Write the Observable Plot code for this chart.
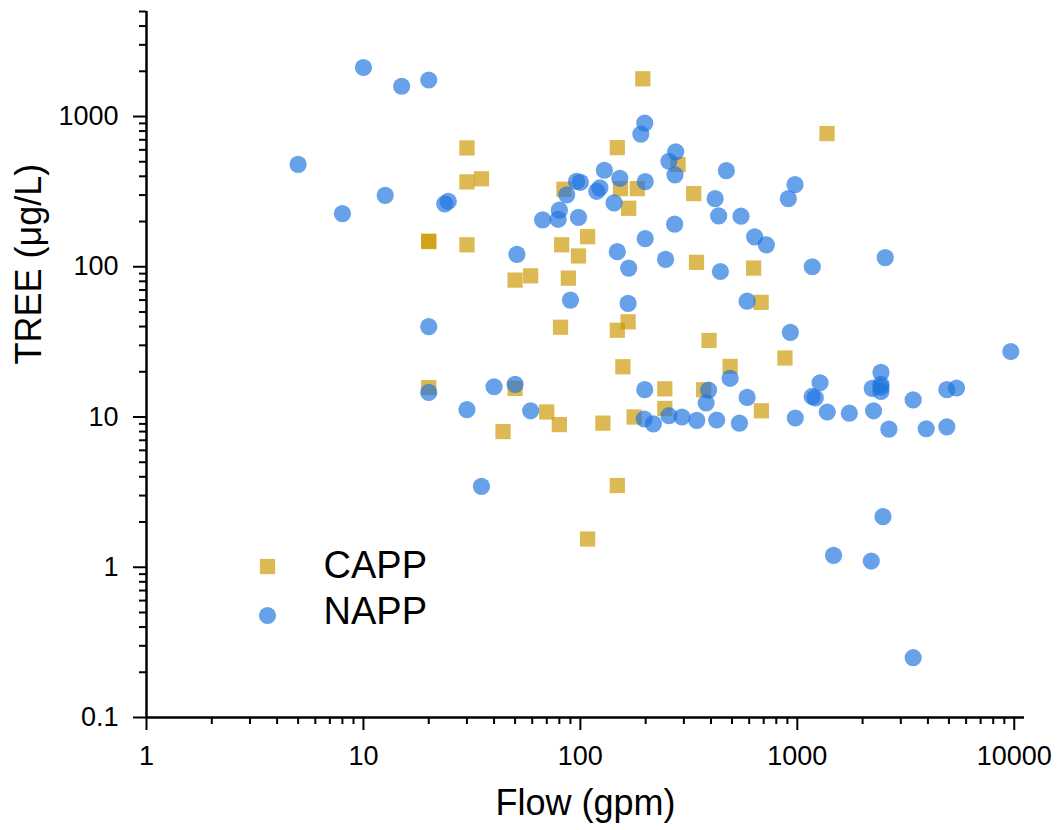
<!DOCTYPE html>
<html>
<head>
<meta charset="utf-8">
<script src="https://cdn.jsdelivr.net/npm/d3@7"></script>
<script src="https://cdn.jsdelivr.net/npm/@observablehq/plot@0.6"></script>
<style>
  html, body { margin: 0; padding: 0; background: #fff; }
  #chart svg { display: block; }
</style>
</head>
<body>
<div id="chart"></div>
<script>
// ---- data ----
const seriesNames = ["CAPP", "NAPP"];

const flowCAPP = [194, 1371, 30, 148, 282, 35, 30, 84, 153, 183, 333, 167, 108, 20, 20, 30, 82, 98, 343, 629,
  88, 50, 59, 681, 81, 166, 148, 392, 877, 157, 490, 20, 50, 245, 370, 245, 70, 683, 177, 127, 80, 44, 148, 108];
const treeCAPP = [1783, 770, 618, 621, 479, 385, 367, 328, 331, 331, 307, 245, 158.5, 147, 148, 140, 140, 118, 107, 98,
  84, 81.5, 87, 58, 39.6, 43, 37.8, 32.3, 24.7, 21.6, 21.7, 15.7, 15.5, 15.4, 15.2, 11.4, 10.8, 11.0, 10.0, 9.1, 8.9, 8.0, 3.5, 1.54];

const flowNAPP = [10, 15, 20, 5, 8, 12.6, 23.7, 24.6, 51, 20, 20, 30, 40, 50, 35, 59,
  67, 79, 80, 86.5, 96, 100, 98, 90, 119, 123, 129, 152, 143, 199, 198, 190, 148, 167, 199, 166,
  275, 256, 273, 272, 247, 471, 418, 434, 550, 636, 720, 442, 587, 976, 909, 1172, 2543, 929, 9640,
  2430, 490, 1273, 2215, 2430, 2430, 2430, 4890, 5420, 390, 380, 425, 541, 587, 979, 1170, 1210,
  1374, 1737, 2246, 2643, 3420, 3927, 4890, 2483, 1469, 2193, 3420, 198, 197, 217, 256, 294, 344];
const treeNAPP = [2120, 1590, 1750, 480, 226, 299, 262, 273, 121, 40, 14.6, 11.2, 15.9, 16.5, 3.45, 11.0,
  205, 207, 238, 301, 370, 365, 213, 60, 318, 335, 439, 388, 266, 369, 904, 764, 126, 98, 154, 57,
  582, 504, 409, 192, 112, 436, 284, 218, 217, 158, 140, 93, 59, 352, 284, 100, 115, 36.6, 27.3,
  19.8, 18.1, 16.9, 15.5, 16.5, 15.8, 14.8, 15.2, 15.6, 15.1, 12.4, 9.55, 9.1, 13.5, 9.85, 13.7, 13.4,
  10.8, 10.6, 11.0, 8.3, 13.0, 8.35, 8.6, 2.17, 1.2, 1.1, 0.25, 15.2, 9.7, 9.0, 10.2, 10.0, 9.5];

const xMajor = [1, 10, 100, 1000, 10000];
const yMajor = [0.1, 1, 10, 100, 1000];
const xMinor = [1, 10, 100, 1000].flatMap(d => [2, 3, 4, 5, 6, 7, 8, 9].map(k => k * d));
const yMinor = [0.1, 1, 10, 100].flatMap(d => [2, 3, 4, 5, 6, 7, 8, 9].map(k => +(k * d).toPrecision(3)))
  .concat([2000, 3000, 4000, 5000]);

const xTitle = "Flow (gpm)";
const yTitle = "TREE (μg/L)";

// ---- table ----
const rows = [
  ...flowCAPP.map((f, i) => ({series: "CAPP", flow: f, tree: treeCAPP[i]})),
  ...flowNAPP.map((f, i) => ({series: "NAPP", flow: f, tree: treeNAPP[i]}))
];

const colors = ["#cc9800", "#1f74e0"];
const symbols = ["square", "circle"];
const font = "'Liberation Sans', Arial, Helvetica, sans-serif";

const legendMarks = seriesNames.flatMap((name, i) => [
  Plot.dot([name], {
    frameAnchor: "bottom-left", dx: 121, dy: [-151, -102][i],
    symbol: d => d, fill: d => d, fillOpacity: 0.68, r: 8.6
  }),
  Plot.text([name], {
    frameAnchor: "bottom-left", dx: 177, dy: [-152, -106][i],
    text: d => d, textAnchor: "start", lineAnchor: "middle", fontSize: 38, fill: "black"
  })
]);

const chart = Plot.plot({
  width: 1058,
  height: 830,
  marginLeft: 146,
  marginRight: 34,
  marginTop: 11,
  marginBottom: 113,
  style: {fontFamily: font, background: "white", color: "black"},
  x: {type: "log", domain: [1, 11150], label: null},
  y: {type: "log", domain: [0.1, 5000], label: null},
  color: {domain: seriesNames, range: colors},
  symbol: {domain: seriesNames, range: symbols},
  marks: [
    Plot.axisX(xMinor, {anchor: "bottom", tickSize: 7, strokeWidth: 2, tickFormat: () => "", label: null}),
    Plot.axisX(xMajor, {anchor: "bottom", tickSize: 13, tickPadding: 15, strokeWidth: 2, fontSize: 27,
      tickFormat: d => String(d), label: null}),
    Plot.axisY(yMinor, {anchor: "left", tickSize: 7, strokeWidth: 2, tickFormat: () => "", label: null}),
    Plot.axisY(yMajor, {anchor: "left", tickSize: 13, tickPadding: 15, strokeWidth: 2, fontSize: 27,
      tickFormat: d => String(d), label: null}),
    Plot.ruleX([1], {stroke: "black", strokeWidth: 2.5}),
    Plot.ruleY([0.1], {stroke: "black", strokeWidth: 2.5}),
    Plot.dot(rows, {x: "flow", y: "tree", symbol: "series", fill: "series", fillOpacity: 0.68, r: 8.6}),
    ...legendMarks,
    Plot.text([xTitle], {frameAnchor: "bottom", dy: 86, text: d => d, lineAnchor: "middle", fontSize: 36, fill: "black"}),
    Plot.text([yTitle], {frameAnchor: "left", dx: -117, text: d => d, rotate: -90, lineAnchor: "middle", fontSize: 36, fill: "black"})
  ]
});

document.getElementById("chart").appendChild(chart);
</script>
</body>
</html>
